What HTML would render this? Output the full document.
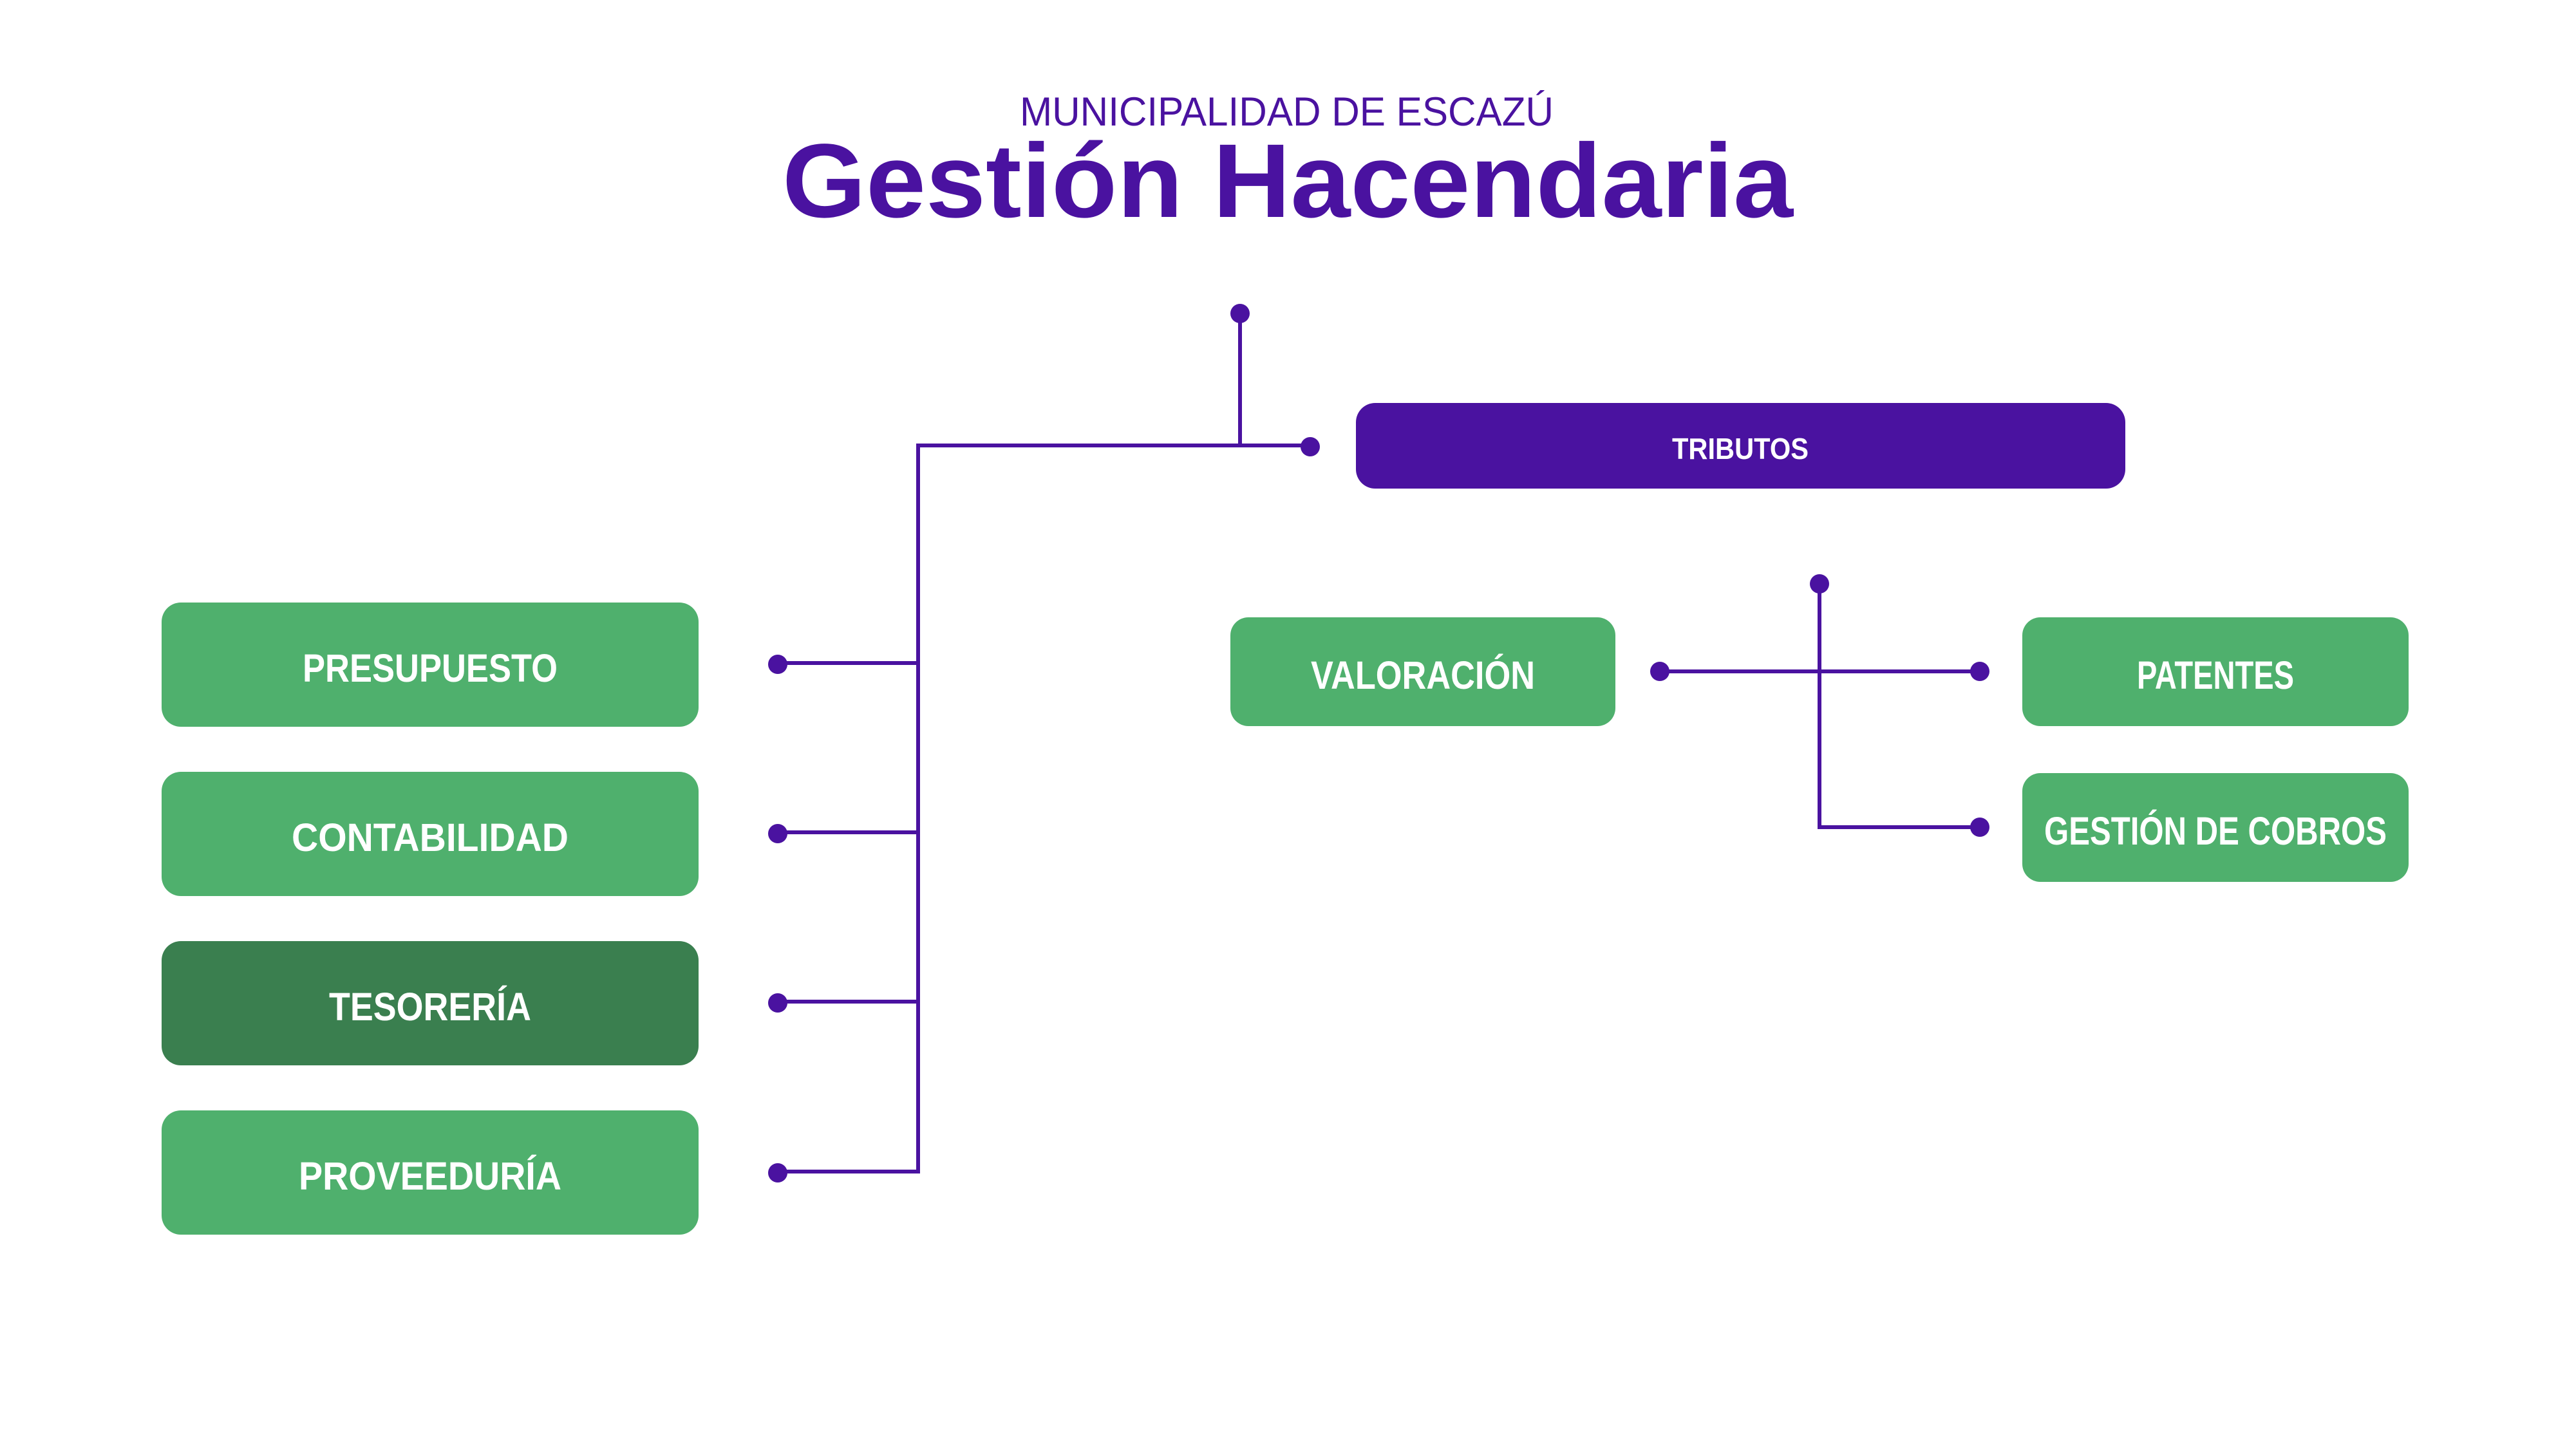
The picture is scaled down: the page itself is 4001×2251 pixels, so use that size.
<!DOCTYPE html>
<html><head><meta charset="utf-8"><style>html,body{margin:0;padding:0;background:#fff}svg{display:block}</style></head>
<body>
<svg width="4001" height="2251" viewBox="0 0 4001 2251" xmlns="http://www.w3.org/2000/svg" font-family="Liberation Sans, sans-serif">
<rect width="4001" height="2251" fill="#fff"/>
<text x="1584" y="195" font-size="63" fill="#4A12A0" textLength="829" lengthAdjust="spacingAndGlyphs">MUNICIPALIDAD DE ESCAZÚ</text>
<text x="1215" y="337" font-size="163" font-weight="bold" fill="#4A12A0" textLength="1570" lengthAdjust="spacingAndGlyphs">Gestión Hacendaria</text>
<g stroke="#4A12A0" stroke-width="6" fill="none">
<line x1="1926" y1="487" x2="1926" y2="692"/>
<polyline points="2035,692 1426,692 1426,1820 1208,1820"/>
<line x1="1208" y1="1030" x2="1426" y2="1030"/>
<line x1="1208" y1="1293" x2="1426" y2="1293"/>
<line x1="1208" y1="1556" x2="1426" y2="1556"/>
<line x1="2578" y1="1043" x2="3075" y2="1043"/>
<polyline points="2826,907 2826,1285 3075,1285"/>
</g>
<g fill="#4A12A0">
<circle cx="1926" cy="487" r="15"/><circle cx="2035" cy="694" r="15"/>
<circle cx="1208" cy="1032" r="15"/><circle cx="1208" cy="1295" r="15"/>
<circle cx="1208" cy="1558" r="15"/><circle cx="1208" cy="1822" r="15"/>
<circle cx="2578" cy="1043" r="15"/><circle cx="3075" cy="1043" r="15"/>
<circle cx="2826" cy="907" r="15"/><circle cx="3075" cy="1285" r="15"/>
</g>
<rect x="2106" y="626" width="1195" height="133" rx="30" fill="#4A12A0"/>
<text x="2703" y="713" font-size="46" font-weight="bold" fill="#fff" text-anchor="middle" textLength="212" lengthAdjust="spacingAndGlyphs">TRIBUTOS</text>
<g font-weight="bold" fill="#fff" text-anchor="middle" font-size="61">
<rect x="251" y="936" width="834" height="193" rx="30" fill="#4FB06D"/>
<text x="668" y="1059" textLength="396" lengthAdjust="spacingAndGlyphs">PRESUPUESTO</text>
<rect x="251" y="1199" width="834" height="193" rx="30" fill="#4FB06D"/>
<text x="668" y="1322" textLength="430" lengthAdjust="spacingAndGlyphs">CONTABILIDAD</text>
<rect x="251" y="1462" width="834" height="193" rx="30" fill="#3A7F4F"/>
<text x="668" y="1585" textLength="314" lengthAdjust="spacingAndGlyphs">TESORERÍA</text>
<rect x="251" y="1725" width="834" height="193" rx="30" fill="#4FB06D"/>
<text x="668" y="1848" textLength="408" lengthAdjust="spacingAndGlyphs">PROVEEDURÍA</text>
<rect x="1911" y="959" width="598" height="169" rx="28" fill="#4FB06D"/>
<text x="2210" y="1070" textLength="348" lengthAdjust="spacingAndGlyphs">VALORACIÓN</text>
<rect x="3141" y="959" width="600" height="169" rx="28" fill="#4FB06D"/>
<text x="3441" y="1070" textLength="244" lengthAdjust="spacingAndGlyphs">PATENTES</text>
<rect x="3141" y="1201" width="600" height="169" rx="28" fill="#4FB06D"/>
<text x="3441" y="1312" textLength="532" lengthAdjust="spacingAndGlyphs">GESTIÓN DE COBROS</text>
</g>
</svg>
</body></html>
